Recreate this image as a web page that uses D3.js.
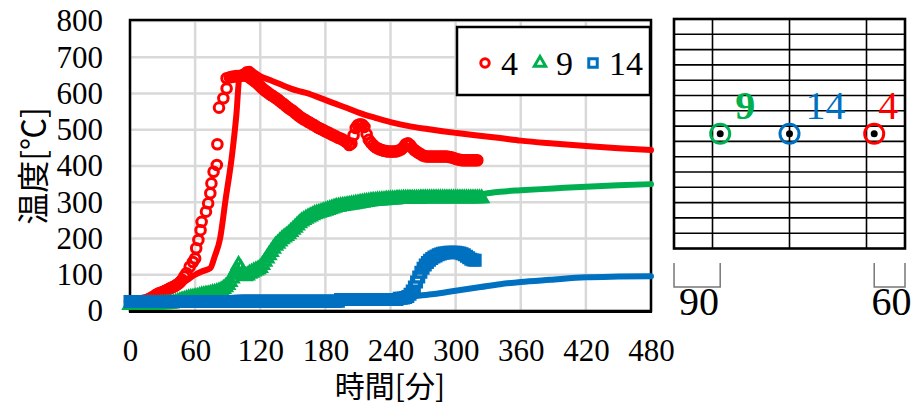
<!DOCTYPE html>
<html>
<head>
<meta charset="utf-8">
<script src="https://cdn.jsdelivr.net/npm/d3@7"></script>
<style>
  body { margin: 0; background: #fff; }
  svg { display: block; }
</style>
</head>
<body>
<svg id="chart" width="912" height="406"></svg>
<script>
// ---- axis ticks ----
const xTicks = [0, 60, 120, 180, 240, 300, 360, 420, 480];
const yTicks = [0, 100, 200, 300, 400, 500, 600, 700, 800];

// ---- series names / colours ----
const seriesNames = ["4", "9", "14"];
const seriesColors = { "4": "#ff0000", "9": "#00b050", "14": "#0070c0" };

// ---- measured temperatures, point 4 [minute, °C] ----
const measured4 = [
  [0,25],[2,25],[4,25],[6,26],[8,26],[10,27],[12,28],[14,29],[16,31],[18,34],
  [20,37],[22,40],[24,45],[26,48],[28,50],[30,52],[32,55],[34,58],[36,61],[38,64],
  [40,67],[42,70],[44,74],[46,79],[48,86],[50,95],[52,104],[55,122],[58,135],[60,145],
  [61,173],[63,196],[65,223],[66,246],[70,274],[72,297],[74,325],[75,352],[77,384],[80,403],
  [80.5,460],[82,561],[86,587],[89,614],[89,642],[92,645],[94,646],[96,647],[98,648],[100,648],
  [102,649],[104,650],[106,650],[108,648],[110,645],[112,640],[114,636],[116,631],[118,626],[120,620],
  [122,614],[124,609],[126,605],[128,600],[130,596],[132,592],[134,588],[136,584],[138,579],[140,574],
  [142,570],[144,565],[146,560],[148,556],[150,552],[152,547],[154,542],[156,537],[158,533],[160,529],
  [162,526],[164,522],[166,519],[168,515],[170,512],[172,508],[174,505],[176,502],[178,499],[180,496],
  [182,493],[184,490],[186,487],[188,484],[190,481],[192,478],[194,476],[196,473],[198,469],[200,465],
  [202,458],[204,462],[206,485],[208,505],[210,513],[212,515],[214,514],[216,508],[218,488],[220,472],
  [222,464],[224,458],[226,452],[228,449],[230,446],[232,444],[234,442],[236,441],[238,440],[240,440],
  [242,440],[244,440],[246,441],[248,443],[250,446],[252,452],[254,460],[256,463],[258,458],[260,450],
  [262,444],[264,440],[266,436],[268,432],[270,429],[272,427],[274,426],[276,426],[278,426],[280,426],
  [282,426],[284,426],[286,426],[288,426],[290,426],[292,426],[294,425],[296,424],[298,422],[300,420],
  [302,418],[304,417],[306,416],[308,416],[310,416],[312,416],[314,416],[316,416],[318,416],[320,416]
];

// ---- measured temperatures, points 9 and 14, logged every 2 minutes from 0 ----
const SAMPLE_STEP = 2;
const measured9Values = [
  17,17,17,17,17,17,17,17,18,18,18,18,18,18,19,19,19,20,20,21,
  22,23,25,27,29,31,33,35,36,37,38,39,41,43,44,45,46,47,49,50,
  52,54,57,61,66,72,80,90,102,115,127,118,105,96,98,103,106,109,112,115,
  119,127,136,145,154,163,172,180,186,192,198,203,207,212,218,224,230,236,242,247,
  251,255,258,261,264,267,269,271,273,275,277,279,281,283,285,287,288,289,290,291,
  292,293,294,295,296,297,298,299,300,301,302,303,304,304,305,305,306,306,307,307,
  308,308,308,309,309,309,310,310,310,310,310,310,310,310,311,311,311,311,311,311,
  311,311,311,311,311,311,311,311,311,311,311,311,311,311,311,311,311,311,311,311,
  311,311,311
];
const measured14Values = [
  26,26,26,26,26,26,26,26,26,26,26,26,26,26,26,26,26,26,26,26,
  26,26,26,26,26,26,26,26,26,26,26,26,26,26,26,26,26,26,26,26,
  26,26,26,26,26,26,26,26,26,26,
  27,27,27,27,27,27,27,27,27,27,27,27,27,27,27,27,27,27,27,27,
  27,27,27,27,27,27,27,27,27,27,27,27,27,27,27,27,27,27,27,27,
  27,27,27,27,27,27,27,
  32,32,32,32,32,32,32,32,32,32,32,32,32,32,32,32,32,32,32,32,
  32,32,32,32,32,32,32,
  35,35,36,37,
  40,46,55,66,80,94,107,118,127,134,140,145,149,152,155,157,159,160,161,162,
  162,162,162,161,160,158,155,151,147,143,141,140
];

// ---- analysed temperatures [minute, °C] ----
const analysed4 = [
  [0,24],[10,26],[18,38],[25,45],[30,50],[40,62],[50,80],[60,100],[67,110],[74,118],
  [78,150],[83,200],[88,306],[94,430],[98,541],[101,651],[104,660],[107,667],[110,668],[114,660],
  [120,648],[129,637],[138,626],[147,615],[155,607],[163,601],[175,588],[187,574],[200,560],[212,546],
  [226,533],[240,521],[257,510],[274,502],[288,496],[301,491],[320,484],[341,477],[360,470],[390,462],
  [420,455],[450,449],[480,444]
];
const analysed9 = [
  [0,18],[40,22],[60,36],[80,52],[90,72],[100,110],[110,103],[120,118],[130,163],[140,198],
  [150,224],[160,251],[170,267],[180,278],[190,287],[200,293],[220,303],[240,308],[260,310],[280,311],
  [300,313],[325,323],[341,329],[360,333],[390,338],[420,343],[450,347],[480,350]
];
const analysed14 = [
  [0,24],[60,25],[120,27],[180,29],[220,32],[250,36],[260,40],[280,47],[300,56],[323,66],
  [341,74],[360,80],[387,86],[420,93],[450,95],[480,96]
];

// ---- cross-section (450 x 450 mm) with the three measuring points ----
const sectionSize = 450;
const sectionRowPitch = 30;
const sectionColumns = [75, 225, 375];
const sectionPoints = [
  { name: "9", x: 90, y: 225 },
  { name: "14", x: 225, y: 225 },
  { name: "4", x: 390, y: 225 }
];
const sectionDims = [
  { label: "90", from: 0, to: 90 },
  { label: "60", from: 390, to: 450 }
];

// ===================================================================
const SERIF = "'Liberation Serif','Times New Roman',serif";
const CJK = "'Noto Sans CJK JP','Noto Sans CJK SC',sans-serif";
const svg = d3.select("#chart");

const x = d3.scaleLinear().domain([0, 480]).range([130, 651]);
const y = d3.scaleLinear().domain([0, 800]).range([311, 21]);

// grid
const grid = svg.append("g");
grid.selectAll("line.v").data(xTicks).join("line")
  .attr("x1", d => x(d)).attr("x2", d => x(d))
  .attr("y1", y(0)).attr("y2", y(800))
  .attr("stroke", "#d9d9d9").attr("stroke-width", 2.5);
grid.selectAll("line.h").data(yTicks).join("line")
  .attr("x1", x(0)).attr("x2", x(480))
  .attr("y1", d => y(d)).attr("y2", d => y(d))
  .attr("stroke", "#d9d9d9").attr("stroke-width", 2.5);

// frame
svg.append("rect")
  .attr("x", x(0)).attr("y", y(800) - 1)
  .attr("width", x(480) - x(0)).attr("height", y(0) - y(800) + 1)
  .attr("fill", "none").attr("stroke", "#000").attr("stroke-width", 2.5);
svg.append("line")
  .attr("x1", x(0) - 1).attr("x2", x(480) + 1)
  .attr("y1", y(0) + 0.5).attr("y2", y(0) + 0.5)
  .attr("stroke", "#000").attr("stroke-width", 3);

// axes (labels only)
const yAxis = svg.append("g")
  .attr("transform", `translate(${x(0)},0)`)
  .call(d3.axisLeft(y).tickValues(yTicks).tickSize(0).tickPadding(27));
const xAxis = svg.append("g")
  .attr("transform", `translate(0,${y(0)})`)
  .call(d3.axisBottom(x).tickValues(xTicks).tickSize(0).tickPadding(28));
[yAxis, xAxis].forEach(a => {
  a.select(".domain").remove();
  a.selectAll("text").attr("font-family", SERIF).attr("font-size", 31).attr("fill", "#000");
});

// axis titles
svg.append("text")
  .attr("transform", `translate(31,166) rotate(-90)`)
  .attr("text-anchor", "middle").attr("dominant-baseline", "central")
  .attr("font-family", CJK).attr("font-size", 32).attr("fill", "#000")
  .text("温度[℃]");
svg.append("text")
  .attr("x", 390).attr("y", 397)
  .attr("text-anchor", "middle")
  .attr("font-family", CJK).attr("font-size", 30).attr("fill", "#000")
  .text("時間[分]");

// series
const line = d3.line().x(d => x(d[0])).y(d => y(d[1])).curve(d3.curveMonotoneX);
const measured9 = measured9Values.map((v, i) => [i * SAMPLE_STEP, v]);
const measured14 = measured14Values.map((v, i) => [i * SAMPLE_STEP, v]);

const markerShape = {
  "4": d3.symbol(d3.symbolCircle, 72),
  "9": d3.symbol(d3.symbolTriangle, 66),
  "14": d3.symbol(d3.symbolSquare, 100)
};

function drawMeasured(data, name) {
  svg.append("g").selectAll("path").data(data).join("path")
    .attr("transform", d => `translate(${x(d[0])},${y(d[1])})`)
    .attr("d", markerShape[name]())
    .attr("fill", "none")
    .attr("stroke", seriesColors[name])
    .attr("stroke-width", 3);
}
function drawAnalysed(data, name) {
  svg.append("path").datum(data)
    .attr("d", line)
    .attr("fill", "none")
    .attr("stroke", seriesColors[name])
    .attr("stroke-width", 6)
    .attr("stroke-linejoin", "round")
    .attr("stroke-linecap", "round");
}

drawMeasured(measured4, "4");
drawAnalysed(analysed4, "4");
drawMeasured(measured9, "9");
drawAnalysed(analysed9, "9");
drawMeasured(measured14, "14");
drawAnalysed(analysed14, "14");

// legend
const legend = svg.append("g");
legend.append("rect")
  .attr("x", 457).attr("y", 27).attr("width", 193).attr("height", 68)
  .attr("fill", "#fff").attr("stroke", "#000").attr("stroke-width", 2.5);
const legendX = { "4": 485, "9": 540, "14": 593 };
const legendMarker = {
  "4": d3.symbol(d3.symbolCircle, 56),
  "9": d3.symbol(d3.symbolTriangle, 56),
  "14": d3.symbol(d3.symbolSquare, 72)
};
seriesNames.forEach(name => {
  legend.append("path")
    .attr("transform", `translate(${legendX[name]},63)`)
    .attr("d", legendMarker[name]())
    .attr("fill", "#fff")
    .attr("stroke", seriesColors[name])
    .attr("stroke-width", 3);
  legend.append("text")
    .attr("x", legendX[name] + 16).attr("y", 75)
    .attr("font-family", SERIF).attr("font-size", 34).attr("fill", "#000")
    .text(name);
});

// cross-section
const sx = d3.scaleLinear().domain([0, sectionSize]).range([674, 905]);
const sy = d3.scaleLinear().domain([0, sectionSize]).range([19, 248.5]);
const sec = svg.append("g");
sec.selectAll("line.row").data(d3.range(sectionRowPitch, sectionSize, sectionRowPitch)).join("line")
  .attr("x1", sx(0)).attr("x2", sx(sectionSize))
  .attr("y1", d => sy(d)).attr("y2", d => sy(d))
  .attr("stroke", "#000").attr("stroke-width", 1.6);
sec.selectAll("line.col").data(sectionColumns).join("line")
  .attr("x1", d => sx(d)).attr("x2", d => sx(d))
  .attr("y1", sy(0)).attr("y2", sy(sectionSize))
  .attr("stroke", "#000").attr("stroke-width", 1.6);
sec.append("rect")
  .attr("x", sx(0)).attr("y", sy(0))
  .attr("width", sx(sectionSize) - sx(0)).attr("height", sy(sectionSize) - sy(0))
  .attr("fill", "none").attr("stroke", "#000").attr("stroke-width", 2.6);

const labelStyle = {
  "9": { dx: 15, weight: "bold", size: 40 },
  "14": { dx: 16, weight: "normal", size: 40 },
  "4": { dx: 4, weight: "normal", size: 40 }
};
sectionPoints.forEach(p => {
  sec.append("circle")
    .attr("cx", sx(p.x)).attr("cy", sy(p.y)).attr("r", 9.5)
    .attr("fill", "none").attr("stroke", seriesColors[p.name]).attr("stroke-width", 3);
  sec.append("circle")
    .attr("cx", sx(p.x)).attr("cy", sy(p.y)).attr("r", 3.5)
    .attr("fill", "#000");
  const st = labelStyle[p.name];
  sec.append("text")
    .attr("x", sx(p.x) + st.dx).attr("y", sy(p.y) - 15)
    .attr("font-family", SERIF).attr("font-size", st.size).attr("font-weight", st.weight)
    .attr("fill", seriesColors[p.name])
    .text(p.name);
});

// dimension brackets under the section
sectionDims.forEach(d => {
  const x0 = sx(d.from), x1 = sx(d.to);
  sec.append("path")
    .attr("d", `M${x0},263 V287 H${x1} V263`)
    .attr("fill", "none").attr("stroke", "#777").attr("stroke-width", 1.5);
  sec.append("text")
    .attr("x", (x0 + x1) / 2 + 2).attr("y", 315)
    .attr("text-anchor", "middle")
    .attr("font-family", SERIF).attr("font-size", 40).attr("fill", "#000")
    .text(d.label);
});
</script>
</body>
</html>
